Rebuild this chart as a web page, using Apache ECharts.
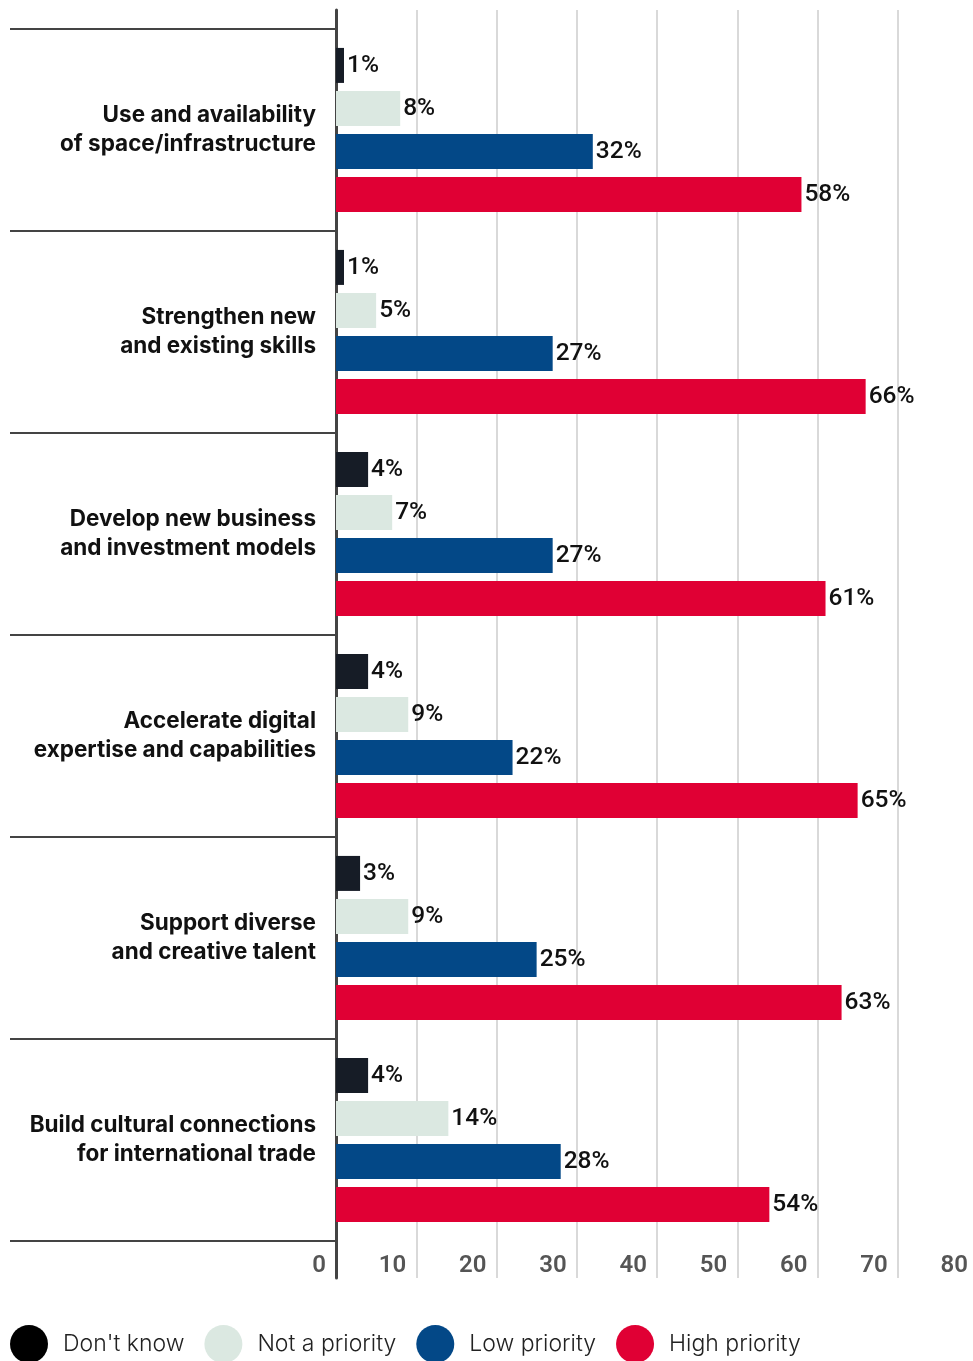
<!DOCTYPE html>
<html>
<head>
<meta charset="utf-8">
<script src="https://cdn.jsdelivr.net/npm/echarts@6/dist/echarts.min.js"></script>
<style>
html,body{margin:0;padding:0;background:#fff;}
#chart{width:973px;height:1361px;}
</style>
</head>
<body>
<div id="chart"></div>
<script>
const categories = [
  'Use and availability\nof space/infrastructure',
  'Strengthen new\nand existing skills',
  'Develop new business\nand investment models',
  'Accelerate digital\nexpertise and capabilities',
  'Support diverse\nand creative talent',
  'Build cultural connections\nfor international trade'
];
const seriesNames = ["Don't know", 'Not a priority', 'Low priority', 'High priority'];
const dontKnow = [1, 1, 4, 4, 3, 4];
const notPriority = [8, 5, 7, 9, 9, 14];
const lowPriority = [32, 27, 27, 22, 25, 28];
const highPriority = [58, 66, 61, 65, 63, 54];
const xTickLabels = ['0', '10', '20', '30', '40', '50', '60', '70', '80'];

const colors = ['#161c26', '#dbe8e1', '#034887', '#e00034'];
const values = [dontKnow, notPriority, lowPriority, highPriority];

const chart = echarts.init(document.getElementById('chart'), null, {renderer: 'canvas'});

const series = values.map((v, i) => ({
  name: seriesNames[i],
  type: 'bar',
  xAxisIndex: 1,
  yAxisIndex: 1,
  data: v,
  barWidth: 35,
  barGap: '23%',
  itemStyle: {color: colors[i]},
  label: {
    show: true,
    position: 'right',
    distance: 3,
    formatter: '{c}%',
    fontFamily: 'Roboto',
    fontWeight: 500,
    fontSize: 24.5,
    color: '#111'
  },
  emphasis: {disabled: true},
  animation: false
}));

chart.setOption({
  animation: false,
  backgroundColor: '#fff',
  grid: [
    {left: 336, width: 642, top: 10, bottom: 1361 - 1278, outerBoundsMode: 'none', containLabel: false},
    {left: 336, width: 642, top: 29, bottom: 1361 - 1241, outerBoundsMode: 'none', containLabel: false}
  ],
  xAxis: [
    {
      gridIndex: 0,
      type: 'value',
      min: 0, max: 80, interval: 10,
      position: 'bottom',
      offset: -24,
      axisLine: {show: false},
      axisTick: {show: false},
      splitLine: {show: true, lineStyle: {color: '#d9d9d9', width: 2}},
      axisLabel: {
        show: true,
        margin: 0,
        align: 'right',
        padding: [0, 10, 0, 0],
        fontFamily: "'Liberation Sans Narrow', 'Roboto'",
        fontWeight: 600,
        fontSize: 24,
        color: '#555',
        showMinLabel: true,
        showMaxLabel: true,
        formatter: (v) => xTickLabels[Math.round(v / 10)]
      }
    },
    {
      gridIndex: 1,
      type: 'value',
      min: 0, max: 80, interval: 10,
      show: false
    }
  ],
  yAxis: [
    {
      gridIndex: 0,
      type: 'value',
      min: 0, max: 1,
      position: 'left',
      offset: 2,
      axisLine: {show: true, lineStyle: {color: '#444', width: 3}},
      axisTick: {show: false},
      axisLabel: {show: false},
      splitLine: {show: false}
    },
    {
      gridIndex: 1,
      type: 'category',
      inverse: true,
      data: categories,
      axisLine: {show: false},
      axisTick: {show: true, length: 326, lineStyle: {color: '#444', width: 2}},
      splitLine: {show: false},
      axisLabel: {
        margin: 20,
        align: 'right',
        padding: [4, 0, 0, 0],
        fontFamily: 'Inter',
        fontWeight: 700,
        fontSize: 22.5,
        lineHeight: 29,
        color: '#111'
      }
    }
  ],
  legend: {
    top: 1325,
    left: 10,
    padding: 0,
    icon: 'circle',
    itemWidth: 38,
    itemHeight: 38,
    itemGap: 20,
    selectedMode: false,
    textStyle: {
      fontFamily: 'Inter',
      fontWeight: 300,
      fontSize: 23,
      color: '#222',
      padding: [4, 0, 0, 10]
    },
    data: [
      {name: "Don't know", itemStyle: {color: '#000'}},
      {name: 'Not a priority'},
      {name: 'Low priority'},
      {name: 'High priority'}
    ]
  },
  series: series
});
</script>
</body>
</html>
